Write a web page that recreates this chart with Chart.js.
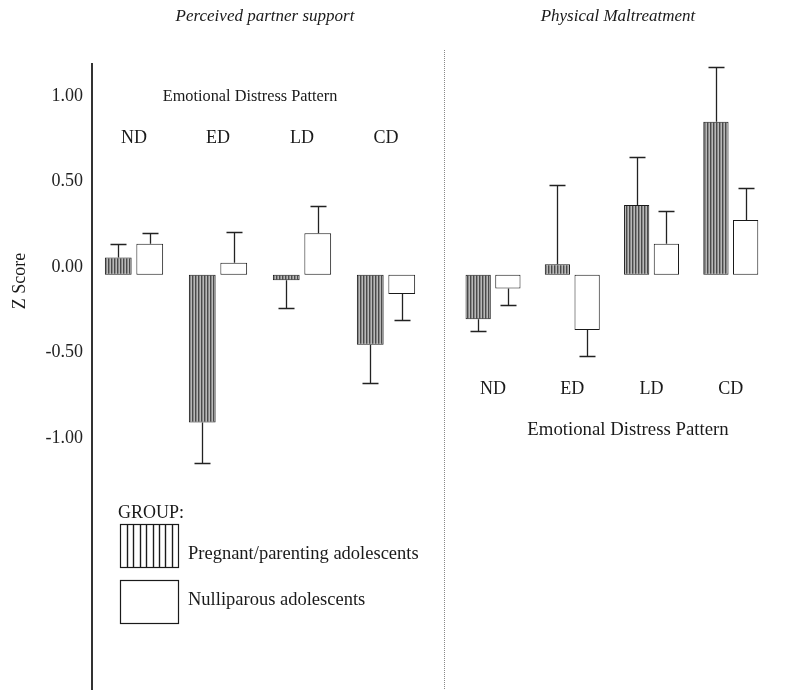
<!DOCTYPE html>
<html>
<head>
<meta charset="utf-8">
<script src="https://cdn.jsdelivr.net/npm/chart.js@4.4.0/dist/chart.umd.min.js"></script>
<style>
  html, body { margin: 0; padding: 0; background: #fff; }
  #wrap { position: relative; width: 794px; height: 690px; }
  canvas { position: absolute; top: 0; }
  #left { left: 0; }
  #right { left: 446px; }
</style>
</head>
<body>
<div id="wrap">
  <canvas id="left" width="446" height="690"></canvas>
  <canvas id="right" width="348" height="690"></canvas>
</div>
<script>
const categories = ['ND', 'ED', 'LD', 'CD'];
const groupLabels = ['Pregnant/parenting adolescents', 'Nulliparous adolescents'];
const yTicks = [1, 0.5, 0, -0.5, -1];
const barBase = -0.045;

// Perceived partner support (means and error bar lengths)
const supportPregnant = [0.055, -0.91, -0.078, -0.454];
const supportPregnantErr = [0.081, 0.236, 0.16, 0.223];
const supportNullip = [0.136, 0.025, 0.197, -0.158];
const supportNullipErr = [0.061, 0.181, 0.161, 0.152];

// Physical maltreatment
const maltPregnant = [-0.305, 0.016, 0.363, 0.85];
const maltPregnantErr = [0.067, 0.464, 0.282, 0.321];
const maltNullip = [-0.125, -0.368, 0.136, 0.275];
const maltNullipErr = [0.097, 0.152, 0.191, 0.185];

const FONT = 'Liberation Serif';
const Y_MAX = (267 - 63) / 171;
const Y_MIN = -(678 - 267) / 171;

// fine vertical stripes like the scanned bars
function stripePattern() {
  const c = document.createElement('canvas');
  c.width = 3; c.height = 4;
  const g = c.getContext('2d');
  g.fillStyle = '#b8b8b8'; g.fillRect(0, 0, 3, 4);
  g.fillStyle = '#4a4a4a'; g.fillRect(0, 0, 1, 4);
  g.fillStyle = '#8a8a8a'; g.fillRect(1, 0, 1, 4);
  return g.createPattern(c, 'repeat');
}

function datasets(pregnant, nullip) {
  const common = { base: barBase, borderColor: '#1a1a1a', borderWidth: 1, borderSkipped: false,
                   categoryPercentage: 0.75, barPercentage: 0.85 };
  return [
    Object.assign({ label: groupLabels[0], data: pregnant, backgroundColor: stripePattern() }, common),
    Object.assign({ label: groupLabels[1], data: nullip, backgroundColor: '#ffffff' }, common)
  ];
}

function yAxis(show) {
  return {
    display: show, min: Y_MIN, max: Y_MAX,
    afterBuildTicks: s => { s.ticks = yTicks.map(v => ({ value: v })); },
    afterFit: s => {
      if (show) s.width = 92;
      s.paddingTop = 0;
      s.paddingBottom = 0;
    },
    grid: { display: false, drawTicks: false },
    border: { display: false },
    ticks: { padding: 9, color: '#222', font: { family: FONT, size: 18 }, callback: v => v.toFixed(2) }
  };
}

function errorBarPlugin(errs) {
  return {
    id: 'errorBars',
    afterDatasetsDraw(chart) {
      const { ctx } = chart, y = chart.scales.y;
      ctx.save();
      ctx.strokeStyle = '#222';
      ctx.lineWidth = 1.3;
      chart.data.datasets.forEach((ds, i) => {
        chart.getDatasetMeta(i).data.forEach((bar, j) => {
          const v = ds.data[j];
          const end = v >= barBase ? v + errs[i][j] : v - errs[i][j];
          const y0 = y.getPixelForValue(v), y1 = Math.round(y.getPixelForValue(end)) + 0.5;
          const x = Math.round(bar.x) + 0.5;
          ctx.beginPath();
          ctx.moveTo(x, y0); ctx.lineTo(x, y1);
          ctx.moveTo(x - 8, y1); ctx.lineTo(x + 8, y1);
          ctx.stroke();
        });
      });
      ctx.restore();
    }
  };
}

function text(ctx, str, x, y, opts = {}) {
  ctx.save();
  ctx.fillStyle = '#1a1a1a';
  ctx.font = (opts.italic ? 'italic ' : '') + (opts.size || 18) + 'px "' + FONT + '"';
  ctx.textAlign = opts.align || 'center';
  ctx.textBaseline = 'middle';
  ctx.translate(x, y);
  if (opts.rotate) ctx.rotate(opts.rotate);
  ctx.fillText(str, 0, 0);
  ctx.restore();
}

const leftDecor = {
  id: 'leftDecor',
  afterDraw(chart) {
    const { ctx, chartArea, scales } = chart;
    // y axis line
    ctx.save();
    ctx.strokeStyle = '#333'; ctx.lineWidth = 2;
    ctx.beginPath(); ctx.moveTo(chartArea.left, chartArea.top); ctx.lineTo(chartArea.left, 690); ctx.stroke();
    // dotted divider between panels
    ctx.strokeStyle = '#888'; ctx.lineWidth = 1; ctx.setLineDash([1, 1]);
    ctx.beginPath(); ctx.moveTo(444.5, 50); ctx.lineTo(444.5, 690); ctx.stroke();
    ctx.restore();

    text(ctx, 'Perceived partner support', 265, 17, { italic: true, size: 17 });
    text(ctx, 'Z Score', 20, 281, { rotate: -Math.PI / 2 });
    text(ctx, 'Emotional Distress Pattern', 250, 97, { size: 16.3 });
    categories.forEach((c, i) => text(ctx, c, scales.x.getPixelForValue(i), 138));

    // legend
    text(ctx, 'GROUP:', 118, 513, { align: 'left' });
    ctx.save();
    ctx.strokeStyle = '#1a1a1a'; ctx.lineWidth = 1.2;
    ctx.fillStyle = '#fff';
    ctx.fillRect(120.5, 524.5, 58, 43); ctx.strokeRect(120.5, 524.5, 58, 43);
    ctx.lineWidth = 1.4;
    for (let x = 127; x < 178; x += 6.4) {
      ctx.beginPath(); ctx.moveTo(Math.round(x) + 0.5, 525); ctx.lineTo(Math.round(x) + 0.5, 567); ctx.stroke();
    }
    ctx.lineWidth = 1.2;
    ctx.strokeRect(120.5, 580.5, 58, 43);
    ctx.restore();
    text(ctx, chart.data.datasets[0].label, 188, 554, { align: 'left', size: 18.5 });
    text(ctx, chart.data.datasets[1].label, 188, 600, { align: 'left', size: 18.5 });
  }
};

const rightDecor = {
  id: 'rightDecor',
  afterDraw(chart) {
    const { ctx, scales } = chart;
    text(ctx, 'Physical Maltreatment', 172, 17, { italic: true, size: 17 });
    categories.forEach((c, i) => text(ctx, c, scales.x.getPixelForValue(i), 389));
    text(ctx, 'Emotional Distress Pattern', 182, 430, { size: 18.8 });
  }
};

function baseOptions(padding, showY) {
  return {
    responsive: false,
    animation: false,
    layout: { padding },
    plugins: { legend: { display: false }, tooltip: { enabled: false } },
    scales: {
      x: { display: false },
      y: yAxis(showY)
    }
  };
}

new Chart(document.getElementById('left'), {
  type: 'bar',
  data: { labels: categories, datasets: datasets(supportPregnant, supportNullip) },
  options: baseOptions({ top: 63, bottom: 12, left: 0, right: 18 }, true),
  plugins: [errorBarPlugin([supportPregnantErr, supportNullipErr]), leftDecor]
});

new Chart(document.getElementById('right'), {
  type: 'bar',
  data: { labels: categories, datasets: datasets(maltPregnant, maltNullip) },
  options: baseOptions({ top: 63, bottom: 12, left: 7.4, right: 23.6 }, false),
  plugins: [errorBarPlugin([maltPregnantErr, maltNullipErr]), rightDecor]
});
</script>
</body>
</html>
